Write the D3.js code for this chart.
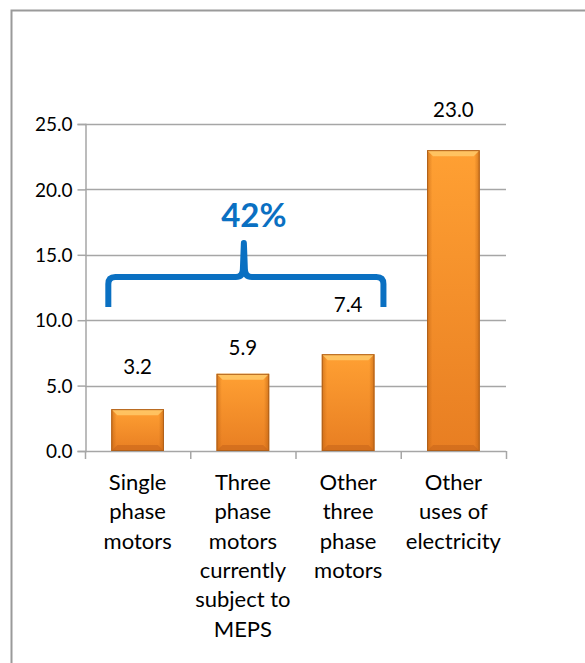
<!DOCTYPE html>
<html>
<head>
<meta charset="utf-8">
<script src="https://cdn.jsdelivr.net/npm/d3@7"></script>
<style>
  html, body { margin: 0; padding: 0; background: #fff; }
  svg { display: block; }
  text { font-family: Lato, "Open Sans", sans-serif; fill: #000; }
</style>
</head>
<body>
<svg id="chart" width="585" height="663"></svg>
<script>
// Electricity use by category
const categories = [
  ["Single", "phase", "motors"],
  ["Three", "phase", "motors", "currently", "subject to", "MEPS"],
  ["Other", "three", "phase", "motors"],
  ["Other", "uses of", "electricity"]
];
const values = [3.2, 5.9, 7.4, 23.0];
const yTicks = [0, 5, 10, 15, 20, 25];
// Motor categories gathered under the brace
const bracedCount = 3;

// Layout
const plot = { left: 85, right: 506, top: 124, bottom: 451 };
const labelLift = [35, 19, 42, 33];   // gap from bar top to label baseline
const blue = "#0A70C2";

const svg = d3.select("#chart");

// Frame around the chart area
svg.append("rect")
  .attr("x", 11.5).attr("y", 10.5)
  .attr("width", 640).attr("height", 720)
  .attr("fill", "none").attr("stroke", "#9a9a9a").attr("stroke-width", 2);

const x = d3.scaleBand()
  .domain(d3.range(values.length))
  .range([plot.left, plot.right])
  .paddingInner(0.5).paddingOuter(0.25);

const y = d3.scaleLinear().domain([0, 25]).range([plot.bottom, plot.top]);

// Gradients for the bevelled bars
const defs = svg.append("defs");
const gv = defs.append("linearGradient").attr("id", "barFill")
  .attr("x1", 0).attr("y1", 0).attr("x2", 0).attr("y2", 1);
gv.append("stop").attr("offset", 0).attr("stop-color", "#FFA033");
gv.append("stop").attr("offset", 1).attr("stop-color", "#E87E22");
const gh = defs.append("linearGradient").attr("id", "barSides")
  .attr("x1", 0).attr("y1", 0).attr("x2", 1).attr("y2", 0);
gh.append("stop").attr("offset", 0).attr("stop-color", "#B85E10").attr("stop-opacity", 0.55);
gh.append("stop").attr("offset", 0.1).attr("stop-color", "#B85E10").attr("stop-opacity", 0);
gh.append("stop").attr("offset", 0.9).attr("stop-color", "#B85E10").attr("stop-opacity", 0);
gh.append("stop").attr("offset", 1).attr("stop-color", "#B85E10").attr("stop-opacity", 0.6);

// Horizontal grid lines
svg.append("g")
  .selectAll("line")
  .data(yTicks.filter(d => d > 0))
  .join("line")
  .attr("x1", plot.left).attr("x2", plot.right)
  .attr("y1", d => Math.round(y(d)) + 0.5).attr("y2", d => Math.round(y(d)) + 0.5)
  .attr("stroke", "#a6a6a6").attr("stroke-width", 1.5);

// Y axis
const yAxis = svg.append("g")
  .attr("transform", `translate(${plot.left + 0.5},0)`)
  .call(d3.axisLeft(y).tickValues(yTicks).tickFormat(d3.format(".1f")).tickSize(8).tickPadding(5));
yAxis.select(".domain").attr("stroke", "#a6a6a6").attr("stroke-width", 1.5);
yAxis.selectAll(".tick line").attr("stroke", "#a6a6a6").attr("stroke-width", 1.5);
yAxis.selectAll(".tick text")
  .attr("font-size", 19).attr("font-family", "Lato, sans-serif").attr("fill", "#000")
  .attr("dy", "0.35em");

// X axis baseline and category separators
const xLine = svg.append("g");
xLine.append("line")
  .attr("x1", plot.left).attr("x2", plot.right)
  .attr("y1", y(0) + 0.5).attr("y2", y(0) + 0.5)
  .attr("stroke", "#a6a6a6").attr("stroke-width", 1.5);
const step = x.step();
xLine.selectAll("line.sep")
  .data(d3.range(values.length + 1))
  .join("line").attr("class", "sep")
  .attr("x1", i => x(0) - step * 0.25 + i * step + 0.5)
  .attr("x2", i => x(0) - step * 0.25 + i * step + 0.5)
  .attr("y1", y(0)).attr("y2", y(0) + 8)
  .attr("stroke", "#a6a6a6").attr("stroke-width", 1.5);

// Bars
const bars = svg.append("g").selectAll("g")
  .data(values)
  .join("g")
  .attr("transform", (d, i) => `translate(${x(i)},${y(d)})`);

const bw = x.bandwidth();
const bev = 6;
bars.append("rect")
  .attr("width", bw).attr("height", d => y(0) - y(d))
  .attr("fill", "url(#barFill)");
bars.append("rect")
  .attr("width", bw).attr("height", d => y(0) - y(d))
  .attr("fill", "url(#barSides)");
// top bevel highlight
bars.append("path")
  .attr("d", `M0,0 L${bw},0 L${bw - bev},${bev} L${bev},${bev} Z`)
  .attr("fill", "#FFC766").attr("opacity", 0.9);
// bottom bevel shade
bars.append("path")
  .attr("d", d => {
    const h = y(0) - y(d);
    return `M0,${h} L${bw},${h} L${bw - bev},${h - bev} L${bev},${h - bev} Z`;
  })
  .attr("fill", "#C8661A").attr("opacity", 0.6);
bars.append("rect")
  .attr("x", 0.5).attr("y", 0.5)
  .attr("width", bw - 1).attr("height", d => y(0) - y(d) - 1)
  .attr("fill", "none").attr("stroke", "#B0601A").attr("stroke-width", 1);

// Value labels
svg.append("g").selectAll("text")
  .data(values)
  .join("text")
  .attr("x", (d, i) => x(i) + bw / 2)
  .attr("y", (d, i) => y(d) - labelLift[i])
  .attr("text-anchor", "middle")
  .attr("font-size", 20.5)
  .text(d => d3.format(".1f")(d));

// Category labels
const catG = svg.append("g").selectAll("text")
  .data(categories)
  .join("text")
  .attr("text-anchor", "middle")
  .attr("font-size", 22);
catG.selectAll("tspan")
  .data((d, i) => d.map(line => ({ line, i })))
  .join("tspan")
  .attr("x", d => x(d.i) + bw / 2)
  .attr("y", (d, j) => 490 + j * 29.3)
  .text(d => d.line);

// Brace grouping the motor categories
const bL = x(0) - 3;
const bR = x(bracedCount - 1) + bw + 9;
const bMid = (bL + bR) / 2 - 2;
const yEnd = 307, yBar = 277, yTip = 243, r = 7;
const brace = d3.path();
brace.moveTo(bL, yEnd);
brace.lineTo(bL, yBar + r);
brace.quadraticCurveTo(bL, yBar, bL + r, yBar);
brace.lineTo(bMid - 8, yBar);
brace.quadraticCurveTo(bMid - 1, yBar, bMid - 1, yBar - 8);
brace.lineTo(bMid, yTip);
brace.lineTo(bMid + 1, yBar - 8);
brace.quadraticCurveTo(bMid + 1, yBar, bMid + 8, yBar);
brace.lineTo(bR - r, yBar);
brace.quadraticCurveTo(bR, yBar, bR, yBar + r);
brace.lineTo(bR, yEnd);
svg.append("path")
  .attr("d", brace.toString())
  .attr("fill", "none").attr("stroke", blue)
  .attr("stroke-width", 6).attr("stroke-linejoin", "round");

// Share of the motor categories in the total
const share = d3.sum(values.slice(0, bracedCount)) / d3.sum(values);
svg.append("text")
  .attr("x", bMid + 10).attr("y", 227)
  .attr("text-anchor", "middle")
  .attr("font-size", 33).attr("font-weight", "bold")
  .style("fill", blue)
  .text(d3.format(".0%")(share));
</script>
</body>
</html>
